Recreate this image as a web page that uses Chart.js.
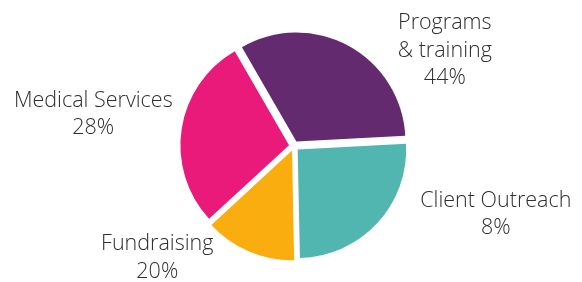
<!DOCTYPE html>
<html>
<head>
<meta charset="utf-8">
<script src="https://cdn.jsdelivr.net/npm/chart.js@4/dist/chart.umd.min.js"></script>
<style>
  html, body { margin: 0; padding: 0; background: #ffffff; }
  #wrap { width: 582px; height: 282px; position: relative; }
</style>
</head>
<body>
<div id="wrap"><canvas id="c" width="582" height="282"></canvas></div>
<script>
// ---- data ----
const categories = [["Programs", "& training"], ["Client Outreach"], ["Fundraising"], ["Medical Services"]];
const sliceValues = [32.5, 25.5, 13.5, 28.5];          // slice sizes as drawn
const percentLabels = ["44%", "8%", "20%", "28%"];     // percentages as printed
const sliceColors = ["#632a6f", "#52b6b0", "#f9ad0f", "#ea1a7b"];

// label block centres, in units of the pie radius, relative to the pie centre
const labelAnchors = [[1.39, -0.88], [1.86, 0.63], [-1.26, 1.03], [-1.85, -0.29]];

const outsideLabels = {
  id: 'outsideLabels',
  afterDatasetsDraw(chart) {
    const meta = chart.getDatasetMeta(0);
    const arc0 = meta.data[0];
    const cx = chart.chartArea.left + (chart.chartArea.right - chart.chartArea.left) / 2;
    const cy = chart.chartArea.top + (chart.chartArea.bottom - chart.chartArea.top) / 2;
    const r = arc0.outerRadius;
    const ctx = chart.ctx;
    ctx.save();
    ctx.font = '300 21.5px "Open Sans"';
    ctx.fillStyle = '#2e2e2e';
    ctx.textAlign = 'center';
    ctx.textBaseline = 'middle';
    const lh = 27.5;
    chart.data.labels.forEach((lab, i) => {
      const lines = lab.concat([percentLabels[i]]);
      const bx = cx + labelAnchors[i][0] * r;
      const by = cy + labelAnchors[i][1] * r;
      const top = by - (lines.length - 1) * lh / 2;
      lines.forEach((t, j) => ctx.fillText(t, bx, top + j * lh));
    });
    ctx.restore();
  }
};

new Chart(document.getElementById('c'), {
  type: 'pie',
  data: {
    labels: categories,
    datasets: [{
      data: sliceValues,
      backgroundColor: sliceColors,
      borderWidth: 0,
      offset: 20,
      hoverOffset: 0
    }]
  },
  options: {
    responsive: false,
    animation: false,
    events: [],
    rotation: -30,
    radius: 108.5,
    layout: { padding: { left: 6, right: 0, top: 10, bottom: 0 } },
    plugins: {
      legend: { display: false },
      tooltip: { enabled: false }
    }
  },
  plugins: [outsideLabels]
});
</script>
</body>
</html>
